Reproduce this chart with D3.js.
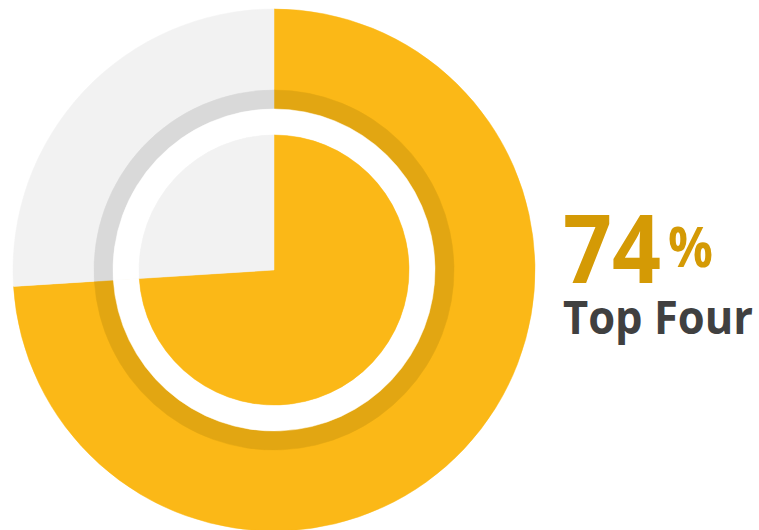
<!DOCTYPE html>
<html>
<head>
<meta charset="utf-8">
<script src="https://cdn.jsdelivr.net/npm/d3@7"></script>
<style>
	body { margin: 0; background: #fff; }
	svg { display: block; }
</style>
</head>
<body>
<script>
// Chart data
const categories = ["Top Four", "Other"];
const values = [74, 26];
const mainColors = ["#FBB817", "#F2F2F2"];
const ringColors = ["#E2A612", "#D9D9D9"];

const width = 759;
const height = 530;
const cx = 274;
const cy = 270;

const svg = d3.select("body").append("svg").attr("width", width).attr("height", height);

const pie = d3.pie().sort(null).value((d) => d)(values);

const g = svg.append("g").attr("transform", `translate(${cx}, ${cy})`);

// Layers from outside in: big pie, darker ring, white gap, inner pie
const layers = [
	{ inner: 0, outer: 261, colors: mainColors },
	{ inner: 161, outer: 180, colors: ringColors },
	{ inner: 135, outer: 161, colors: ["#FFFFFF", "#FFFFFF"] },
	{ inner: 0, outer: 135, colors: mainColors },
];

layers.forEach((layer) => {
	const arc = d3.arc().innerRadius(layer.inner).outerRadius(layer.outer);
	g.append("g")
		.selectAll("path")
		.data(pie)
		.enter()
		.append("path")
		.attr("d", arc)
		.attr("fill", (d, i) => layer.colors[i])
		.attr("stroke", (d, i) => layer.colors[i])
		.attr("stroke-width", 0.5);
});

// Label: percentage and category
const pct = svg.append("text")
	.attr("x", 563)
	.attr("y", 283)
	.attr("font-family", "Open Sans, sans-serif")
	.attr("font-weight", "bold")
	.attr("fill", "#D49A05");

pct.append("tspan")
	.attr("font-size", 95)
	.attr("textLength", 98)
	.attr("lengthAdjust", "spacingAndGlyphs")
	.text(values[0]);

pct.append("tspan")
	.attr("x", 668)
	.attr("font-size", 56)
	.attr("dy", -16)
	.attr("textLength", 45)
	.attr("lengthAdjust", "spacingAndGlyphs")
	.text("%");

svg.append("text")
	.attr("x", 563)
	.attr("y", 334)
	.attr("font-family", "Open Sans, sans-serif")
	.attr("font-weight", "bold")
	.attr("font-size", 46)
	.attr("fill", "#404040")
	.attr("textLength", 190)
	.attr("lengthAdjust", "spacingAndGlyphs")
	.text(categories[0]);
</script>
</body>
</html>
